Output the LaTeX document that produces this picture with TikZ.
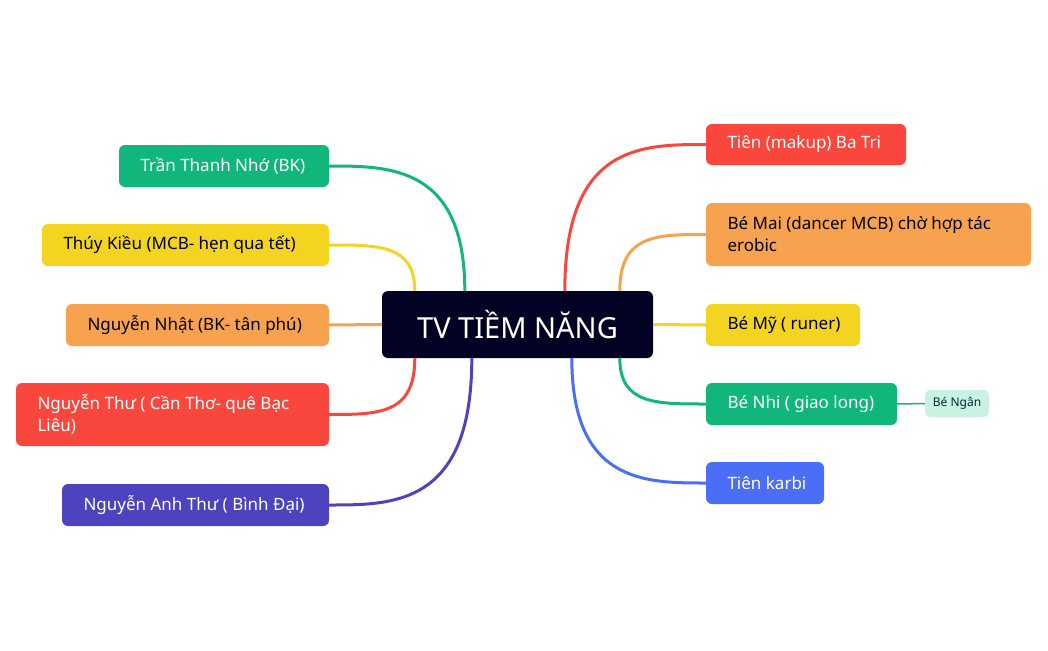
\documentclass[tikz,border=0pt]{standalone}
\usepackage{fontspec}
\setmainfont{Noto Sans}
\usetikzlibrary{calc}
\definecolor{cgreen}{HTML}{10B67A}
\definecolor{cyellow}{HTML}{F2D421}
\definecolor{corange}{HTML}{F6A24F}
\definecolor{cred}{HTML}{F9473D}
\definecolor{cpurple}{HTML}{4E43BF}
\definecolor{cblue}{HTML}{4A6EF5}
\definecolor{cnavy}{HTML}{020324}
\definecolor{clight}{HTML}{C9F2E3}
\begin{document}
\begin{tikzpicture}[x=1pt,y=-1pt,
  box/.style={rounded corners=6pt,inner sep=0pt,font=\fontsize{17}{22}\selectfont},
  wline/.style={line width=3pt},
  tl/.style={anchor=west,align=left,font=\fontsize{17}{22}\selectfont}]
\useasboundingbox (0,0) rectangle (1048,650);
% boxes as paths with named coordinates
\newcommand{\bx}[6]{\fill[#5,rounded corners=6pt] (#1,#2) rectangle (#3,#4); \coordinate (#6L) at (#1,{(#2+#4)/2}); \coordinate (#6R) at (#3,{(#2+#4)/2});}
\node[fill=cnavy,rounded corners=6pt,minimum width=271pt,minimum height=67pt,text=white,font=\fontsize{29}{34}\selectfont] (c) at (517.5,324.5) {TV TIỀM NĂNG};
% left
\node[fill=cgreen,box,minimum width=210pt,minimum height=42pt] (l1) at (224,166) {};
\node[tl,text=white] at (137,166) {Trần Thanh Nhớ (BK)};
\node[fill=cyellow,box,minimum width=287pt,minimum height=42pt] (l2) at (185.5,245) {};
\node[tl] at (60,245) {Thúy Kiều (MCB- hẹn qua tết)};
\node[fill=corange,box,minimum width=263pt,minimum height=42pt] (l3) at (197.5,325) {};
\node[tl] at (84,325) {Nguyễn Nhật (BK- tân phú)};
\node[fill=cred,box,minimum width=313pt,minimum height=63pt] (l4) at (172.5,414.5) {};
\node[tl,text=white] at (34,414.5) {Nguyễn Thư ( Cần Thơ- quê Bạc\\Liêu)};
\node[fill=cpurple,box,minimum width=267pt,minimum height=42pt] (l5) at (195.5,505) {};
\node[tl,text=white] at (80,505) {Nguyễn Anh Thư ( Bình Đại)};
% right
\node[fill=cred,box,minimum width=200pt,minimum height=41pt] (r1) at (806,144.5) {};
\node[tl,text=white] at (724,144.5) {Tiên (makup) Ba Tri};
\node[fill=corange,box,minimum width=325pt,minimum height=63pt] (r2) at (868.5,234.5) {};
\node[tl] at (724,234.5) {Bé Mai (dancer MCB) chờ hợp tác\\erobic};
\node[fill=cyellow,box,minimum width=154pt,minimum height=42pt] (r3) at (783,325) {};
\node[tl] at (724,325) {Bé Mỹ ( runer)};
\node[fill=cgreen,box,minimum width=191pt,minimum height=42pt] (r4) at (801.5,404) {};
\node[tl,text=white] at (724,404) {Bé Nhi ( giao long)};
\node[fill=cblue,box,minimum width=118pt,minimum height=42pt] (r5) at (765,483) {};
\node[tl,text=white] at (724,483) {Tiên karbi};
\node[fill=clight,rounded corners=5pt,minimum width=64pt,minimum height=27pt,text=cnavy!80!cgreen,font=\fontsize{12}{14}\selectfont] (s1) at (957,403.5) {Bé Ngân};
% connectors
\begin{scope}[on background layer/.try]
\end{scope}
\draw[wline,cgreen] ($(c.north west)+(83,0)$) .. controls +(0,-125) and +(60,0) .. (l1.east);
\draw[wline,cyellow] ($(c.north west)+(33,0)$) .. controls +(0,-46) and +(50,0) .. (l2.east);
\draw[wline,corange] (c.west) -- (l3.east);
\draw[wline,cred] ($(c.south west)+(33,0)$) .. controls +(0,56) and +(50,0) .. (l4.east);
\draw[wline,cpurple] ($(c.south west)+(90,0)$) .. controls +(0,147) and +(65,0) .. (l5.east);
\draw[wline,cred] ($(c.north west)+(183,0)$) .. controls +(0,-146) and +(-65,0) .. (r1.west);
\draw[wline,corange] ($(c.north west)+(238,0)$) .. controls +(0,-56) and +(-50,0) .. (r2.west);
\draw[wline,cyellow] (c.east) -- (r3.west);
\draw[wline,cgreen] ($(c.south west)+(238,0)$) .. controls +(0,46) and +(-50,0) .. (r4.west);
\draw[wline,cblue] ($(c.south west)+(190,0)$) .. controls +(0,125) and +(-60,0) .. (r5.west);
\draw[line width=1.5pt,cgreen] (r4.east) -- (s1.west);
\end{tikzpicture}
\end{document}
